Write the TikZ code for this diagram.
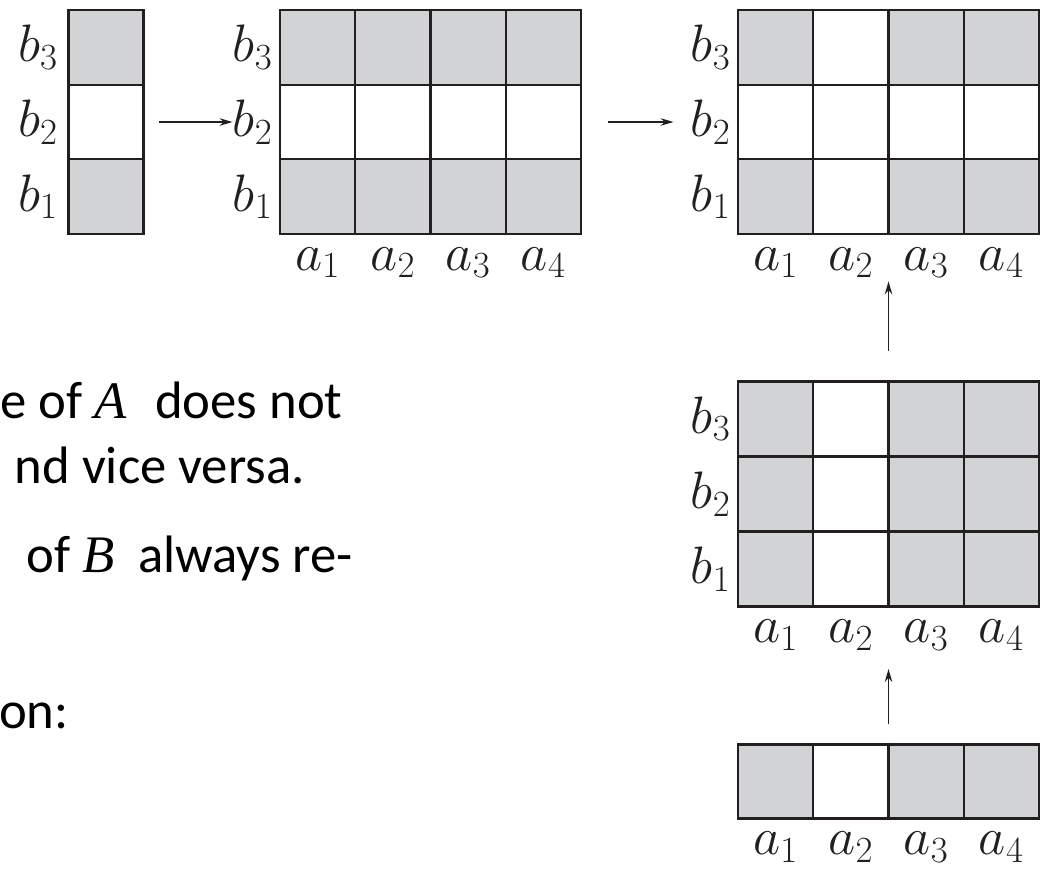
\RequirePackage{fix-cm}
\documentclass[tikz,border=0pt]{standalone}
\usepackage[no-math]{fontspec}
\setmainfont{Carlito}
\newfontfamily\varfont{Liberation Serif}
\usepackage{tikz}
\usetikzlibrary{positioning,arrows.meta,fit}

\definecolor{cellgray}{HTML}{D1D3D4}
\definecolor{gridblack}{HTML}{231F20}

\begin{document}
\begin{tikzpicture}[x=0.02cm, y=-0.02cm, font=\fontsize{30}{36}\selectfont]
    \tikzstyle{cell}=[draw=gridblack, line width=1.1pt, minimum width=1.505cm,
                      minimum height=1.495cm, inner sep=0pt, outer sep=0pt]
    \tikzstyle{frame}=[draw=gridblack, line width=1.6pt, inner sep=0pt]
    \tikzstyle{midline}=[draw=gridblack, line width=1.7pt]
    \tikzstyle{lbl}=[inner sep=0pt, text=gridblack]
    \tikzstyle{arrow}=[draw=gridblack, line width=0.75pt,
                       -{Stealth[length=0.26cm, width=0.15cm]}]
    \tikzstyle{txt}=[anchor=base east, inner sep=0pt]

    \useasboundingbox (0,0) rectangle (1044,869);
    \clip (0,0) rectangle (1044,869);

    % single column of b's
    \foreach \k/\col in {3/cellgray, 2/white, 1/cellgray}
        \node[cell, fill=\col] (A-\k) at (106, {10+74.67*(3.5-\k)}) {};
    \node[frame, fit=(A-3)(A-1)] (gA) {};
    \foreach \k in {1,2,3}
        \node[lbl, left=0.2cm of A-\k] (Ab\k) {$b_\k$};

    % b rows copied over the a's
    \foreach \k/\col in {3/cellgray, 2/white, 1/cellgray}
        \foreach \c in {1,...,4}
            \node[cell, fill=\col] (B-\k-\c) at ({280+75.25*(\c-0.5)}, {10+74.67*(3.5-\k)}) {};
    \node[frame, fit=(B-3-1)(B-1-4)] (gB) {};

    % combined result
    \foreach \k in {1,3}
        \foreach \c/\col in {1/cellgray, 2/white, 3/cellgray, 4/cellgray}
            \node[cell, fill=\col] (C-\k-\c) at ({738+75.25*(\c-0.5)}, {10+74.67*(3.5-\k)}) {};
    \foreach \c in {1,...,4}
        \node[cell, fill=white] (C-2-\c) at ({738+75.25*(\c-0.5)}, {10+74.67*1.5}) {};
    \node[frame, fit=(C-3-1)(C-1-4)] (gC) {};

    % a row copied over the b's
    \foreach \k in {1,2,3}
        \foreach \c/\col in {1/cellgray, 2/white, 3/cellgray, 4/cellgray}
            \node[cell, fill=\col] (D-\k-\c) at ({738+75.25*(\c-0.5)}, {381+75.3*(3.5-\k)}) {};
    \node[frame, fit=(D-3-1)(D-1-4)] (gD) {};

    % single row of a's
    \foreach \c/\col in {1/cellgray, 2/white, 3/cellgray, 4/cellgray}
        \node[cell, fill=\col] (E-\c) at ({738+75.25*(\c-0.5)}, 781.5) {};
    \node[frame, fit=(E-1)(E-4)] (gE) {};

    % heavier line between a2 and a3
    \foreach \g in {gB,gC,gD,gE}
        \draw[midline] (\g.north) -- (\g.south);

    % labels
    \foreach \g in {B,C,D} {
        \foreach \k in {1,2,3}
            \node[lbl, left=0.14cm of \g-\k-1] (\g b\k) {$b_\k$};
        \foreach \c in {1,...,4}
            \node[lbl, below=0.26cm of \g-1-\c] (\g a\c) {$a_\c$};
    }
    \foreach \c in {1,...,4}
        \node[lbl, below=0.26cm of E-\c] (Ea\c) {$a_\c$};

    \draw[arrow, shorten <=0.28cm] (gA) -- (Bb2);
    \draw[arrow, shorten <=0.52cm, shorten >=0.34cm] (gB) -- (Cb2);
    \draw[arrow, shorten <=0.58cm, shorten >=0.92cm] (gD) -- (gC);
    \draw[arrow, shorten <=0.38cm, shorten >=1.22cm] (gE) -- (gD);

    % text cut at the left edge
    \node[txt] (t1) at (343,418) {e of {\varfont\itshape A}\hspace{0.55em}does not};
    \node[txt] (t2) at (305,483) {nd vice versa.};
    \node[txt] (t3) at (353,572) {of {\varfont\itshape B}\hspace{0.45em}always re-};
    \node[txt] (t4) at (69,728) {on:};
\end{tikzpicture}
\end{document}
